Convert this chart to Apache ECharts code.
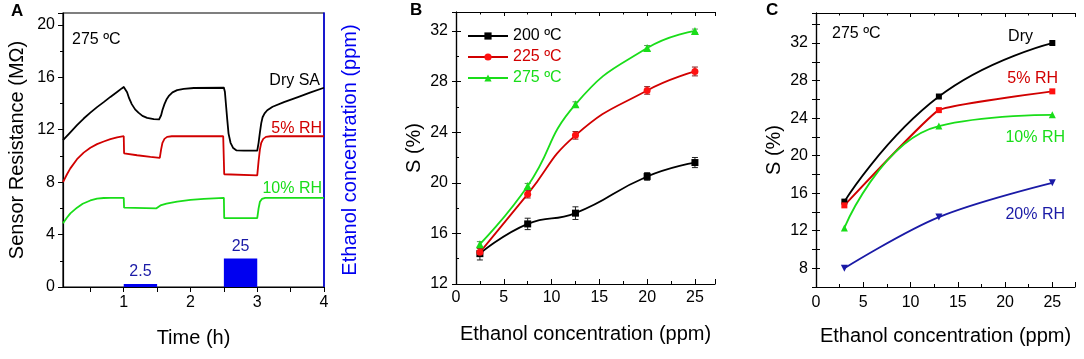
<!DOCTYPE html>
<html>
<head>
<meta charset="utf-8">
<script src="https://cdn.jsdelivr.net/npm/echarts@6/dist/echarts.min.js"></script>
<style>
html, body { margin: 0; padding: 0; background: #fff; }
#chart { width: 1084px; height: 359px; }
</style>
</head>
<body>
<div id="chart"></div>
<script>
// ---- panel A: sensor resistance vs time ----
const tDry = [0.09, 0.2, 0.3, 0.4, 0.5, 0.6, 0.7, 0.8, 0.9, 0.97, 1.0, 1.02, 1.05, 1.08, 1.12, 1.17, 1.22, 1.28, 1.35, 1.45, 1.53,
  1.56, 1.58, 1.61, 1.64, 1.68, 1.73, 1.8, 1.9, 2.05, 2.5, 2.515, 2.53, 2.55, 2.57, 2.6, 2.64, 2.69, 2.8, 3.0,
  3.02, 3.04, 3.06, 3.08, 3.11, 3.15, 3.23, 3.4, 3.62, 3.8, 4.0]
const rDry = [11.2, 11.8, 12.35, 12.85, 13.3, 13.72, 14.1, 14.5, 14.88, 15.15, 15.25, 15.2, 14.85, 14.4, 13.95, 13.55, 13.3, 13.05, 12.9, 12.8, 12.78,
  13.1, 13.5, 13.95, 14.3, 14.6, 14.85, 15.02, 15.12, 15.18, 15.2, 14.9, 14.0, 12.8, 11.7, 11.0, 10.6, 10.42, 10.4, 10.4,
  11.0, 11.8, 12.5, 12.95, 13.25, 13.48, 13.75, 14.1, 14.5, 14.85, 15.2]
const t5 = [0.09, 0.15, 0.2, 0.3, 0.4, 0.5, 0.6, 0.7, 0.8, 0.9, 1.0, 1.005, 1.2, 1.4, 1.54, 1.56, 1.58, 1.61, 1.65, 1.72,
  2.49, 2.505, 2.52, 3.0, 3.02, 3.04, 3.06, 3.09, 3.13, 3.2, 4.0]
const r5 = [8.0, 8.6, 9.05, 9.75, 10.25, 10.62, 10.9, 11.1, 11.28, 11.42, 11.5, 10.2, 10.05, 9.92, 9.85, 10.5, 11.0, 11.3, 11.45, 11.5,
  11.5, 8.6, 8.52, 8.52, 9.6, 10.5, 11.0, 11.3, 11.45, 11.5, 11.5]
const t10 = [0.09, 0.15, 0.2, 0.3, 0.385, 0.5, 0.6, 0.7, 0.8, 1.0, 1.005, 1.49, 1.51, 1.55, 1.64, 1.8, 2.0, 2.2, 2.5,
  2.505, 3.0, 3.02, 3.04, 3.07, 3.12, 4.0]
const r10 = [4.86, 5.3, 5.62, 6.05, 6.35, 6.6, 6.74, 6.79, 6.8, 6.8, 6.05, 6.0, 6.12, 6.22, 6.36, 6.52, 6.64, 6.72, 6.8,
  5.25, 5.25, 6.0, 6.5, 6.72, 6.8, 6.8]
const pulseStart = [1.0, 2.5]
const pulseEnd = [1.5, 3.0]
const pulseConc = [2.5, 25]
const ticksA = [0.5, 1, 1.5, 2, 2.5, 3, 3.5, 4]
const labelsA = [1, 2, 3, 4]

// ---- panel B: response vs concentration at three temperatures ----
const concB = [2.5, 7.5, 12.5, 20, 25]
const s200 = [14.4, 16.75, 17.6, 20.5, 21.6]
const e200 = [0.5, 0.45, 0.5, 0.3, 0.4]
const s225 = [14.5, 19.1, 23.75, 27.3, 28.8]
const e225 = [0.3, 0.3, 0.3, 0.3, 0.35]
const s275 = [15.15, 19.75, 26.2, 30.65, 32.0]
const e275 = [0.2, 0.2, 0.2, 0.2, 0.15]

// ---- panel C: response vs concentration at different humidity ----
const concC = [3, 13, 25]
const sDry = [15.1, 26.3, 32.0]
const sRh5 = [14.7, 24.85, 26.85]
const sRh10 = [12.3, 23.15, 24.35]
const sRh20 = [8.0, 13.45, 17.1]

const FONT = '"Liberation Sans", Arial, sans-serif'
const BLACK = '#000000'
const RED = '#d10000'
const GREEN = '#19dd19'
const BLUE = '#0000f0'
const DBLUE = '#1a1aa6'

function zip (xs, ys) {
  return xs.map(function (x, i) { return [x, ys[i]] })
}

function errorSeries (xi, yi, xs, ys, errs, color) {
  return {
    type: 'custom',
    xAxisIndex: xi,
    yAxisIndex: yi,
    silent: true,
    z: 1,
    encode: { x: 0, y: [1, 2] },
    data: xs.map(function (x, i) { return [x, ys[i] - errs[i], ys[i] + errs[i]] }),
    renderItem: function (params, api) {
      const lo = api.coord([api.value(0), api.value(1)])
      const hi = api.coord([api.value(0), api.value(2)])
      const st = { stroke: color, lineWidth: 1 }
      return {
        type: 'group',
        children: [
          { type: 'line', shape: { x1: lo[0], y1: lo[1], x2: hi[0], y2: hi[1] }, style: st },
          { type: 'line', shape: { x1: lo[0] - 3, y1: lo[1], x2: lo[0] + 3, y2: lo[1] }, style: st },
          { type: 'line', shape: { x1: hi[0] - 3, y1: hi[1], x2: hi[0] + 3, y2: hi[1] }, style: st }
        ]
      }
    }
  }
}

function lineSeries (name, xi, yi, data, color, symbol, extra) {
  const s = {
    name: name,
    type: 'line',
    xAxisIndex: xi,
    yAxisIndex: yi,
    data: data,
    smooth: 0.5,
    symbol: symbol,
    symbolSize: 7,
    lineStyle: { color: color, width: 1.8 },
    itemStyle: { color: color },
    z: 3
  }
  return Object.assign(s, extra || {})
}

function mirrorX (grid, min, max, interval) {
  return {
    type: 'value', gridIndex: grid, position: 'top', min: min, max: max, interval: interval,
    axisLine: { show: true, lineStyle: { color: BLACK, width: 1.2 } },
    axisTick: { show: true, inside: true, length: 4, lineStyle: { color: BLACK } },
    minorTick: { show: true, splitNumber: 2, length: 2.5, lineStyle: { color: BLACK } },
    axisLabel: { show: false },
    splitLine: { show: false }
  }
}

function mirrorY (grid, min, max, interval) {
  return {
    type: 'value', gridIndex: grid, position: 'right', min: min, max: max, interval: interval,
    axisLine: { show: true, lineStyle: { color: BLACK, width: 1.2 } },
    axisTick: { show: true, inside: true, length: 4, lineStyle: { color: BLACK } },
    axisLabel: { show: false },
    splitLine: { show: false }
  }
}

const axisText = { color: BLACK, fontSize: 16, fontFamily: FONT }
const nameText = { color: BLACK, fontSize: 20, fontFamily: FONT }

const option = {
  animation: false,
  backgroundColor: '#ffffff',
  textStyle: { fontFamily: FONT },
  grid: [
    { left: 63, top: 13, width: 261, height: 274, show: true, borderColor: BLACK, borderWidth: 1.2, backgroundColor: 'transparent' },
    { left: 456, top: 12, width: 259, height: 272 },
    { left: 816, top: 13, width: 259, height: 274 }
  ],
  legend: {
    left: 462,
    top: 23,
    orient: 'vertical',
    itemWidth: 40,
    itemHeight: 9,
    itemGap: 5,
    textStyle: { fontSize: 16, fontFamily: FONT },
    data: [
      { name: '200 ºC', textStyle: { color: BLACK } },
      { name: '225 ºC', textStyle: { color: RED } },
      { name: '275 ºC', textStyle: { color: GREEN } }
    ]
  },
  xAxis: [
    {
      type: 'value', gridIndex: 0, min: 0.09, max: 4,
      name: 'Time (h)', nameLocation: 'middle', nameGap: 41, nameTextStyle: nameText,
      axisLine: { lineStyle: { color: BLACK, width: 1.2 } },
      axisTick: { show: true, length: 5, customValues: ticksA, lineStyle: { color: BLACK } },
      axisLabel: Object.assign({ customValues: labelsA, margin: 8 }, axisText),
      splitLine: { show: false }
    },
    {
      type: 'value', gridIndex: 0, position: 'top', min: 0.09, max: 4,
      axisLine: { show: true, lineStyle: { color: BLACK, width: 1.2 } },
      axisTick: { show: true, inside: true, length: 4, customValues: ticksA, lineStyle: { color: BLACK } },
      axisLabel: { show: false },
      splitLine: { show: false }
    },
    {
      type: 'value', gridIndex: 1, min: 0, max: 27.1, interval: 5,
      name: 'Ethanol concentration (ppm)', nameLocation: 'middle', nameGap: 40, nameTextStyle: nameText,
      axisLine: { lineStyle: { color: BLACK, width: 1.2 } },
      axisTick: { show: true, inside: true, length: 5, lineStyle: { color: BLACK } },
      minorTick: { show: true, splitNumber: 2, length: 3, lineStyle: { color: BLACK } },
      axisLabel: Object.assign({ margin: 6, showMaxLabel: false }, axisText),
      splitLine: { show: false }
    },
    mirrorX(1, 0, 27.1, 5),
    {
      type: 'value', gridIndex: 2, min: 0, max: 27.4, interval: 5,
      name: 'Ethanol concentration (ppm)', nameLocation: 'middle', nameGap: 39, nameTextStyle: nameText,
      axisLine: { lineStyle: { color: BLACK, width: 1.2 } },
      axisTick: { show: true, inside: true, length: 5, lineStyle: { color: BLACK } },
      minorTick: { show: true, splitNumber: 2, length: 3, lineStyle: { color: BLACK } },
      axisLabel: Object.assign({ margin: 8, showMaxLabel: false }, axisText),
      splitLine: { show: false }
    },
    mirrorX(2, 0, 27.4, 5)
  ],
  yAxis: [
    {
      type: 'value', gridIndex: 0, min: 0, max: 20.9, interval: 4,
      name: 'Sensor Resistance (MΩ)', nameLocation: 'middle', nameGap: 36, nameTextStyle: nameText,
      axisLine: { show: true, lineStyle: { color: BLACK, width: 1.2 } },
      axisTick: { show: true, length: 5, lineStyle: { color: BLACK } },
      minorTick: { show: true, splitNumber: 2, length: 3, lineStyle: { color: BLACK } },
      axisLabel: Object.assign({ margin: 8, showMaxLabel: false }, axisText),
      splitLine: { show: false }
    },
    {
      type: 'value', gridIndex: 0, position: 'right', min: 0, max: 240,
      name: 'Ethanol concentration (ppm)', nameLocation: 'middle', nameGap: 16, nameRotate: 90,
      nameTextStyle: { color: BLUE, fontSize: 20, fontFamily: FONT },
      axisLine: { show: true, lineStyle: { color: BLUE, width: 1.5 } },
      axisTick: { show: false },
      axisLabel: { show: false },
      splitLine: { show: false }
    },
    {
      type: 'value', gridIndex: 1, min: 12, max: 33.5, interval: 4,
      name: 'S (%)', nameLocation: 'middle', nameGap: 32, nameTextStyle: nameText,
      axisLine: { show: true, lineStyle: { color: BLACK, width: 1.2 } },
      axisTick: { show: true, inside: true, length: 5, lineStyle: { color: BLACK } },
      minorTick: { show: true, splitNumber: 2, length: 3, lineStyle: { color: BLACK } },
      axisLabel: Object.assign({ margin: 8, showMaxLabel: false }, axisText),
      splitLine: { show: false }
    },
    mirrorY(1, 12, 33.5, 4),
    {
      type: 'value', gridIndex: 2, min: 6, max: 35.2, interval: 2,
      name: 'S (%)', nameLocation: 'middle', nameGap: 32, nameTextStyle: nameText,
      axisLine: { show: true, lineStyle: { color: BLACK, width: 1.2 } },
      axisTick: { show: true, inside: true, length: 4, lineStyle: { color: BLACK } },
      axisLabel: Object.assign({
        margin: 8,
        formatter: function (v) { return v % 4 === 0 ? String(v) : '' }
      }, axisText),
      splitLine: { show: false }
    },
    mirrorY(2, 6, 35.2, 2)
  ],
  series: [
    // panel A curves
    lineSeries('Dry SA', 0, 0, zip(tDry, rDry), BLACK, 'none', { smooth: false, lineStyle: { color: BLACK, width: 1.8, join: 'round' } }),
    lineSeries('5% RH A', 0, 0, zip(t5, r5), RED, 'none', { smooth: false }),
    lineSeries('10% RH A', 0, 0, zip(t10, r10), GREEN, 'none', { smooth: false }),
    // ethanol pulses on the right axis
    {
      type: 'custom',
      xAxisIndex: 0,
      yAxisIndex: 1,
      silent: true,
      encode: { x: [0, 1], y: 2 },
      data: pulseStart.map(function (s, i) { return [s, pulseEnd[i], pulseConc[i]] }),
      renderItem: function (params, api) {
        const p0 = api.coord([api.value(0), 0])
        const p1 = api.coord([api.value(1), api.value(2)])
        const top = Math.min(p1[1], p0[1] - 3)
        return {
          type: 'group',
          children: [
            { type: 'rect', shape: { x: p0[0], y: top, width: p1[0] - p0[0], height: p0[1] - top }, style: { fill: BLUE } },
            {
              type: 'text', x: (p0[0] + p1[0]) / 2, y: top - 4,
              style: { text: String(api.value(2)), fill: DBLUE, font: '16px ' + FONT, align: 'center', verticalAlign: 'bottom' }
            }
          ]
        }
      }
    },
    // panel B
    errorSeries(2, 2, concB, s200, e200, '#222222'),
    errorSeries(2, 2, concB, s225, e225, '#8a1a1a'),
    errorSeries(2, 2, concB, s275, e275, '#5a8a5a'),
    lineSeries('200 ºC', 2, 2, zip(concB, s200), BLACK, 'rect'),
    lineSeries('225 ºC', 2, 2, zip(concB, s225), RED, 'circle', { itemStyle: { color: '#ff1010' } }),
    lineSeries('275 ºC', 2, 2, zip(concB, s275), GREEN, 'triangle', { symbolSize: 8 }),
    // panel C
    lineSeries('Dry', 4, 4, zip(concC, sDry), BLACK, 'rect', { symbolSize: 6 }),
    lineSeries('5% RH', 4, 4, zip(concC, sRh5), RED, 'rect', { symbolSize: 6, smooth: 0.1, itemStyle: { color: '#ff1010' } }),
    lineSeries('10% RH', 4, 4, zip(concC, sRh10), GREEN, 'triangle', { symbolSize: 7, smooth: 0.5 }),
    lineSeries('20% RH', 4, 4, zip(concC, sRh20), DBLUE, 'triangle', { symbolSize: 7, symbolRotate: 180, smooth: 0.35 })
  ],
  graphic: [
    { type: 'text', left: 11, top: 3, style: { text: 'A', font: 'bold 17px ' + FONT, fill: BLACK } },
    { type: 'text', left: 410, top: 2, style: { text: 'B', font: 'bold 17px ' + FONT, fill: BLACK } },
    { type: 'text', left: 766, top: 2, style: { text: 'C', font: 'bold 17px ' + FONT, fill: BLACK } },
    { type: 'text', x: 72, y: 40, style: { text: '275 ºC', font: '16px ' + FONT, fill: BLACK, verticalAlign: 'middle' } },
    { type: 'text', x: 320, y: 81, style: { text: 'Dry SA', font: '16px ' + FONT, fill: BLACK, align: 'right', verticalAlign: 'middle' } },
    { type: 'text', x: 322, y: 129, style: { text: '5% RH', font: '16px ' + FONT, fill: RED, align: 'right', verticalAlign: 'middle' } },
    { type: 'text', x: 322, y: 189, style: { text: '10% RH', font: '16px ' + FONT, fill: GREEN, align: 'right', verticalAlign: 'middle' } },
    { type: 'text', x: 832, y: 34, style: { text: '275 ºC', font: '16px ' + FONT, fill: BLACK, verticalAlign: 'middle' } },
    { type: 'text', x: 1033, y: 37, style: { text: 'Dry', font: '16px ' + FONT, fill: BLACK, align: 'right', verticalAlign: 'middle' } },
    { type: 'text', x: 1058, y: 79, style: { text: '5% RH', font: '16px ' + FONT, fill: RED, align: 'right', verticalAlign: 'middle' } },
    { type: 'text', x: 1065, y: 138, style: { text: '10% RH', font: '16px ' + FONT, fill: GREEN, align: 'right', verticalAlign: 'middle' } },
    { type: 'text', x: 1065, y: 215, style: { text: '20% RH', font: '16px ' + FONT, fill: DBLUE, align: 'right', verticalAlign: 'middle' } }
  ]
}

const chart = echarts.init(document.getElementById('chart'), null, { renderer: 'canvas' })
chart.setOption(option)
</script>
</body>
</html>
